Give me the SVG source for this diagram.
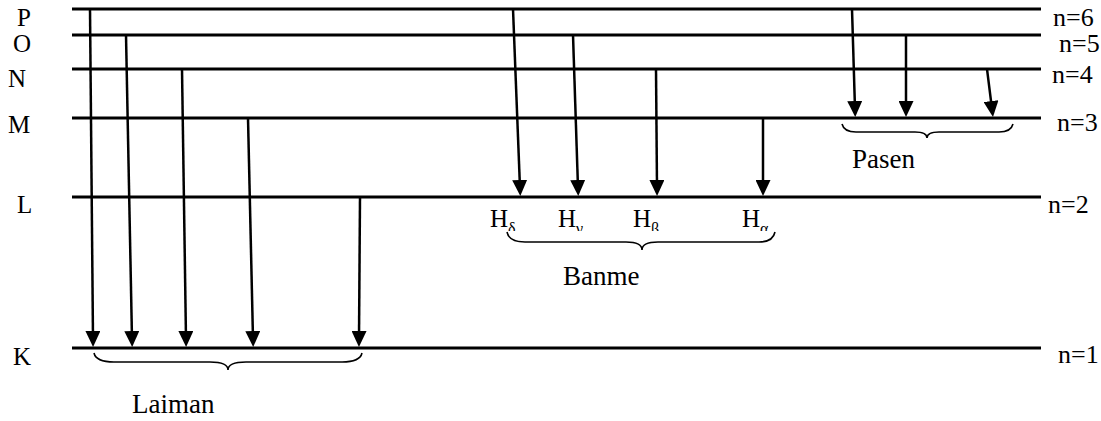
<svg xmlns="http://www.w3.org/2000/svg" width="1101" height="421" viewBox="0 0 1101 421">
<style>
.lvl{stroke:#000;stroke-width:2.8;fill:none}
.arr{stroke:#000;stroke-width:2.5;fill:none;marker-end:url(#ah)}
.br{stroke:#000;stroke-width:1.6;fill:none}
text{font-family:"Liberation Serif","Times New Roman",serif;fill:#000}
.lt{font-size:25px}
.nl{font-size:26px}
.nm{font-size:27px}
.h{font-size:25px}
.sub{font-size:16px}
</style>
<defs>
<marker id="ah" viewBox="0 0 16 15" refX="8" refY="7.5" markerWidth="16" markerHeight="15" orient="auto" markerUnits="userSpaceOnUse">
<path d="M0,0 L16,7.5 L0,15 Z" fill="#000"/>
</marker>
<clipPath id="hclip"><rect x="470" y="200" width="320" height="31"/></clipPath>
</defs>
<g id="levels">
<g id="level-P"><line class="lvl" x1="72" y1="9" x2="1041" y2="9"/><text class="lt" x="17" y="26">P</text><text class="nl" x="1053" y="26">n=6</text></g>
<g id="level-O"><line class="lvl" x1="72" y1="35" x2="1041" y2="35"/><text class="lt" x="13" y="52">O</text><text class="nl" x="1059" y="52">n=5</text></g>
<g id="level-N"><line class="lvl" x1="72" y1="69" x2="1041" y2="69"/><text class="lt" x="8" y="87">N</text><text class="nl" x="1052" y="83">n=4</text></g>
<g id="level-M"><line class="lvl" x1="72" y1="118" x2="1041" y2="118"/><text class="lt" x="8" y="133">M</text><text class="nl" x="1057" y="131">n=3</text></g>
<g id="level-L"><line class="lvl" x1="72" y1="197" x2="1041" y2="197"/><text class="lt" x="17" y="213">L</text><text class="nl" x="1048" y="213">n=2</text></g>
<g id="level-K"><line class="lvl" x1="72" y1="348" x2="1041" y2="348"/><text class="lt" x="13" y="365">K</text><text class="nl" x="1058" y="363">n=1</text></g>
</g>
<g id="connectors">
<line class="arr" x1="90" y1="9" x2="93" y2="339"/>
<line class="arr" x1="126" y1="35" x2="132" y2="339"/>
<line class="arr" x1="182" y1="69" x2="186" y2="339"/>
<line class="arr" x1="248" y1="118" x2="253" y2="339"/>
<line class="arr" x1="360" y1="197" x2="359" y2="339"/>
<line class="arr" x1="513" y1="9" x2="520" y2="188"/>
<line class="arr" x1="573" y1="35" x2="578" y2="188"/>
<line class="arr" x1="656" y1="69" x2="657" y2="188"/>
<line class="arr" x1="763" y1="118" x2="763" y2="188"/>
<line class="arr" x1="852" y1="9" x2="855" y2="109"/>
<line class="arr" x1="906" y1="35" x2="906" y2="109"/>
<line class="arr" x1="987" y1="69" x2="992" y2="109"/>
</g>
<g id="lyman">
<path class="br" d="M94,353 Q96,362 114,362 L210,362 Q228,362 228,370 Q228,362 246,362 L342,362 Q360,362 362,353"/>
<text class="nm" x="132" y="413">Laiman</text>
</g>
<g id="balmer">
<g clip-path="url(#hclip)">
<text class="h" x="490" y="227">H<tspan class="sub" dy="7">δ</tspan></text>
<text class="h" x="558" y="227">H<tspan class="sub" dy="7">γ</tspan></text>
<text class="h" x="633" y="227">H<tspan class="sub" dy="7">β</tspan></text>
<text class="h" x="742" y="227">H<tspan class="sub" dy="7">α</tspan></text>
</g>
<path class="br" d="M507,232 Q509,242 525,242 L626,242 Q642,242 642,250 Q642,242 658,242 L759,242 Q773,242 775,232"/>
<text class="nm" x="563" y="285">Banme</text>
</g>
<g id="paschen">
<path class="br" d="M842,124 Q844,132 856,132 L915,132 Q927,132 927,138 Q927,132 939,132 L999,132 Q1011,132 1013,124"/>
<text class="nm" x="852" y="168">Pasen</text>
</g>
</svg>
